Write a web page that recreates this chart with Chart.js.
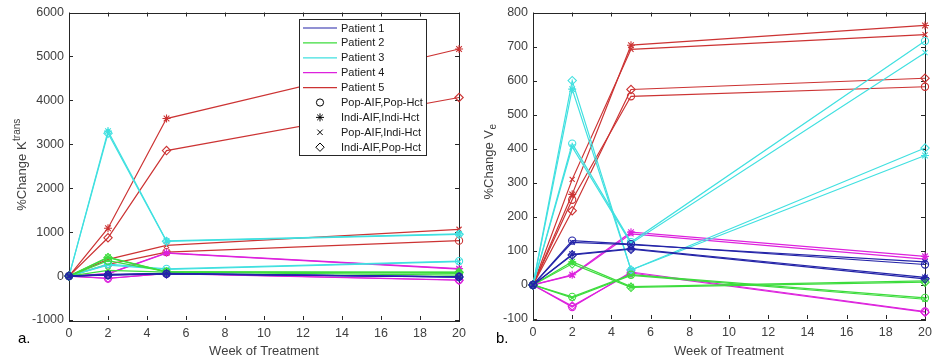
<!DOCTYPE html>
<html><head><meta charset="utf-8">
<script src="https://cdn.jsdelivr.net/npm/chart.js@4/dist/chart.umd.min.js"></script>
<style>
html,body{margin:0;padding:0;background:#fff;}
#wrap{position:relative;width:944px;height:364px;overflow:hidden;background:#fff;}
.panel{position:absolute;top:0;width:472px;height:364px;}
</style></head><body>
<div id="wrap">
<div class="panel" style="left:0"><canvas id="cA" width="472" height="364"></canvas></div>
<div class="panel" style="left:472px"><canvas id="cB" width="472" height="364"></canvas></div>
</div>
<script>
// ---- data ----
const weeks = [0, 2, 5, 20];
const patients = ['Patient 1', 'Patient 2', 'Patient 3', 'Patient 4', 'Patient 5'];
const methods = ['Pop-AIF,Pop-Hct', 'Indi-AIF,Indi-Hct', 'Pop-AIF,Indi-Hct', 'Indi-AIF,Pop-Hct'];
const xTicks = [0, 2, 4, 6, 8, 10, 12, 14, 16, 18, 20];
const yTicksK = [-1000, 0, 1000, 2000, 3000, 4000, 5000, 6000];
const yTicksV = [-100, 0, 100, 200, 300, 400, 500, 600, 700, 800];

// %Change Ktrans, rows in method order: circle, star, x, diamond
const ktransP1 = [[0, 20, 50, -15], [0, 40, 60, -25], [0, 30, 55, -20], [0, 25, 50, -20]];
const ktransP2 = [[0, 350, 100, 60], [0, 430, 95, 90], [0, 130, 90, 20], [0, 420, 95, 85]];
const ktransP3 = [[0, 270, 165, 340], [0, 3300, 800, 960], [0, 250, 150, 330], [0, 3250, 790, 950]];
const ktransP4 = [[0, -55, 60, -90], [0, 55, 530, 170], [0, 50, 520, 160], [0, -50, 55, -95]];
const ktransP5 = [[0, 265, 545, 806], [0, 1090, 3586, 5170], [0, 380, 700, 1065], [0, 872, 2857, 4065]];

// %Change Ve
const veP1 = [[0, 130, 120, 60], [0, 90, 107, 22], [0, 125, 118, 68], [0, 88, 105, 18]];
const veP2 = [[0, -35, 30, -38], [0, 68, -5, 12], [0, -38, 28, -42], [0, 62, -7, 8]];
const veP3 = [[0, 415, 126, 716], [0, 575, 44, 380], [0, 405, 122, 682], [0, 600, 44, 402]];
const veP4 = [[0, -65, 38, -78], [0, 30, 155, 84], [0, 28, 150, 76], [0, -62, 35, -80]];
const veP5 = [[0, 250, 554, 582], [0, 266, 704, 762], [0, 310, 692, 735], [0, 218, 574, 607]];

// ---- styles ----
const patientColors = ['#2424a8', '#3ddc3d', '#40e0e0', '#dd22dd', '#cc3333'];
const markerStyles = ['circle', 'star', 'crossRot', 'rectRot'];
const markerRadius = [3.6, 4, 3.6, 4.2];
const FONT = '"Liberation Sans", Arial, sans-serif';
const TXT = '#404040';

function buildDatasets(groups) {
  const ds = [];
  groups.forEach((rows, p) => {
    rows.forEach((vals, m) => {
      ds.push({
        label: patients[p] + ' ' + methods[m],
        data: weeks.map((w, i) => ({ x: w, y: vals[i] })),
        borderColor: patientColors[p],
        backgroundColor: 'transparent',
        pointBorderColor: patientColors[p],
        pointBackgroundColor: 'transparent',
        pointStyle: markerStyles[m],
        pointRadius: markerRadius[m],
        pointBorderWidth: 1.1,
        borderWidth: 1.2,
        tension: 0,
        clip: false
      });
    });
  });
  return ds;
}

function drawMarker(ctx, style, x, y, r) {
  ctx.beginPath();
  if (style === 'circle') { ctx.arc(x, y, r, 0, Math.PI * 2); }
  else if (style === 'rectRot') { ctx.moveTo(x, y - r); ctx.lineTo(x + r, y); ctx.lineTo(x, y + r); ctx.lineTo(x - r, y); ctx.closePath(); }
  else if (style === 'crossRot') { const d = r * 0.75; ctx.moveTo(x - d, y - d); ctx.lineTo(x + d, y + d); ctx.moveTo(x + d, y - d); ctx.lineTo(x - d, y + d); }
  else if (style === 'star') { for (let k = 0; k < 4; k++) { const a = k * Math.PI / 4; ctx.moveTo(x - r * Math.cos(a), y - r * Math.sin(a)); ctx.lineTo(x + r * Math.cos(a), y + r * Math.sin(a)); } }
  ctx.stroke();
}

function framePlugin(cfg) {
  return {
    id: 'frame' + cfg.id,
    beforeDatasetsDraw(chart) {
      const ctx = chart.ctx, a = chart.chartArea, xs = chart.scales.x, ys = chart.scales.y;
      ctx.save();
      ctx.strokeStyle = '#262626';
      ctx.lineWidth = 1;
      ctx.strokeRect(Math.round(a.left) + 0.5, Math.round(a.top) + 0.5, Math.round(a.right - a.left), Math.round(a.bottom - a.top));
      const tl = 4;
      ctx.beginPath();
      xTicks.forEach(v => {
        const px = Math.round(xs.getPixelForValue(v)) + 0.5;
        ctx.moveTo(px, a.bottom); ctx.lineTo(px, a.bottom - tl);
        ctx.moveTo(px, a.top); ctx.lineTo(px, a.top + tl);
      });
      cfg.yTicks.forEach(v => {
        const py = Math.round(ys.getPixelForValue(v)) + 0.5;
        ctx.moveTo(a.left, py); ctx.lineTo(a.left + tl, py);
        ctx.moveTo(a.right, py); ctx.lineTo(a.right - tl, py);
      });
      ctx.stroke();
      ctx.restore();
    },
    afterDraw(chart) {
      const ctx = chart.ctx, a = chart.chartArea;
      ctx.save();
      // x title
      ctx.fillStyle = TXT;
      ctx.font = '13px ' + FONT;
      ctx.textAlign = 'center';
      ctx.textBaseline = 'middle';
      ctx.fillText('Week of Treatment', (a.left + a.right) / 2, 351);
      // y title with super/subscript
      ctx.save();
      ctx.translate(cfg.ytX, cfg.ytY);
      ctx.rotate(-Math.PI / 2);
      ctx.font = '13px ' + FONT;
      const w1 = ctx.measureText(cfg.ytMain).width;
      ctx.font = '10px ' + FONT;
      const w2 = ctx.measureText(cfg.ytScript).width;
      const start = -(w1 + w2) / 2;
      ctx.textAlign = 'left';
      ctx.textBaseline = 'alphabetic';
      ctx.font = '13px ' + FONT;
      ctx.fillText(cfg.ytMain, start, 5);
      ctx.font = '10px ' + FONT;
      ctx.fillText(cfg.ytScript, start + w1 + 0.5, 5 + cfg.ytShift);
      ctx.restore();
      // panel letter
      ctx.fillStyle = '#000';
      ctx.font = '15px ' + FONT;
      ctx.textAlign = 'left';
      ctx.fillText(cfg.letter, cfg.letterX, 339);
      // legend
      if (cfg.legend) {
        const L = 299, T = 19, R = 426, B = 155;
        ctx.fillStyle = '#fff';
        ctx.fillRect(L, T, R - L, B - T);
        ctx.strokeStyle = '#262626';
        ctx.lineWidth = 1;
        ctx.strokeRect(L + 0.5, T + 0.5, R - L, B - T);
        const rowY = i => 28 + i * 14.9;
        ctx.font = '11px ' + FONT;
        ctx.textBaseline = 'middle';
        ctx.textAlign = 'left';
        patients.forEach((p, i) => {
          ctx.strokeStyle = patientColors[i];
          ctx.lineWidth = 1.2;
          ctx.beginPath(); ctx.moveTo(303, rowY(i)); ctx.lineTo(337, rowY(i)); ctx.stroke();
          ctx.fillStyle = '#1a1a1a';
          ctx.fillText(p, 341, rowY(i) + 0.5);
        });
        methods.forEach((m, j) => {
          const y = rowY(5 + j);
          ctx.strokeStyle = '#000';
          ctx.lineWidth = 1;
          drawMarker(ctx, markerStyles[j], 320, y, markerRadius[j]);
          ctx.fillStyle = '#1a1a1a';
          ctx.fillText(m, 341, y + 0.5);
        });
      }
      ctx.restore();
    }
  };
}

function makeChart(canvasId, groups, cfg) {
  return new Chart(document.getElementById(canvasId), {
    type: 'line',
    data: { datasets: buildDatasets(groups) },
    options: {
      responsive: false,
      animation: false,
      devicePixelRatio: 1,
      layout: { padding: { left: 0, right: cfg.padRight, top: cfg.padTop, bottom: 0 } },
      plugins: { legend: { display: false }, tooltip: { enabled: false } },
      scales: {
        x: {
          type: 'linear', min: 0, max: 20,
          afterBuildTicks: s => { s.ticks = xTicks.map(v => ({ value: v })); },
          afterFit: s => { s.height = 364 - cfg.bottom; },
          grid: { display: false, drawTicks: false },
          border: { display: false },
          ticks: { color: TXT, font: { family: FONT, size: 12.5 }, padding: 6, maxRotation: 0, autoSkip: false,
                   callback: v => String(v) }
        },
        y: {
          type: 'linear', min: cfg.yTicks[0], max: cfg.yTicks[cfg.yTicks.length - 1],
          afterBuildTicks: s => { s.ticks = cfg.yTicks.map(v => ({ value: v })); },
          afterFit: s => { s.width = cfg.left; },
          grid: { display: false, drawTicks: false },
          border: { display: false },
          ticks: { color: TXT, font: { family: FONT, size: 12.5 }, padding: 5, autoSkip: false,
                   callback: v => String(v) }
        }
      }
    },
    plugins: [framePlugin(cfg)]
  });
}

makeChart('cA', [ktransP1, ktransP2, ktransP3, ktransP4, ktransP5], {
  id: 'A', yTicks: yTicksK, left: 69, padRight: 11, padTop: 10, bottom: 320,
  ytX: 21, ytY: 165, ytMain: '%Change K', ytScript: 'trans', ytShift: -6,
  letter: 'a.', letterX: 18, legend: true
});
makeChart('cB', [veP1, veP2, veP3, veP4, veP5], {
  id: 'B', yTicks: yTicksV, left: 61, padRight: 19, padTop: 9, bottom: 319,
  ytX: 16, ytY: 162, ytMain: '%Change V', ytScript: 'e', ytShift: 3,
  letter: 'b.', letterX: 24, legend: false
});
</script>
</body></html>
